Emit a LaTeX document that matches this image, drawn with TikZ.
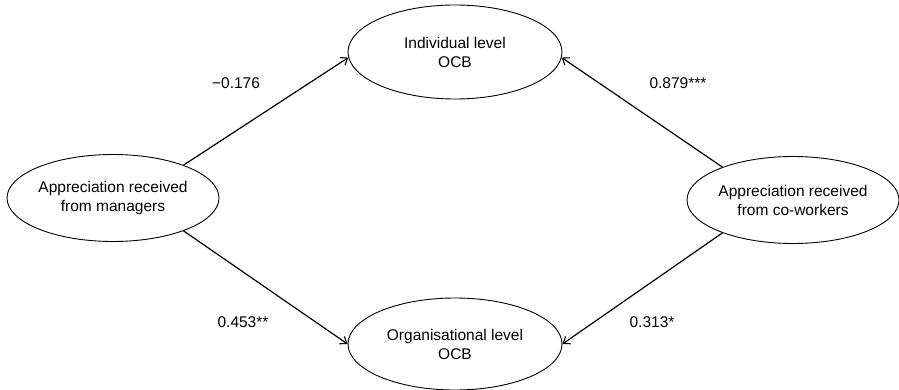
\documentclass[tikz,border=0pt]{standalone}
\usepackage{fontspec}
\setmainfont{Liberation Sans}
\usepackage{tikz}
\usetikzlibrary{shapes.geometric,arrows.meta}

\begin{document}
\begin{tikzpicture}[x=1pt,y=-1pt,
  construct/.style={draw,ellipse,line width=0.9pt,inner sep=0pt,
    minimum width=212pt,minimum height=87pt,align=center,
    font=\fontsize{15.5pt}{19pt}\selectfont},
  link/.style={line width=1.2pt,-{Straight Barb[length=6pt,width=9pt,line width=1.1pt]}},
  coef/.style={font=\fontsize{15.5pt}{19pt}\selectfont}]
\useasboundingbox (0,0) rectangle (899,390);
\node[construct] (mgr) at (113,198) {Appreciation received\\from managers};
\node[construct] (cow) at (793,200) {Appreciation received\\from co-workers};
\node[construct,minimum width=214pt,minimum height=94pt] (ind) at (455,52) {Individual level\\OCB};
\node[construct,minimum width=214pt,minimum height=92pt] (org) at (455,344) {Organisational level\\OCB};
\draw[link] (mgr.25) -- (ind.183);
\draw[link] (mgr.335) -- (org.west);
\draw[link] (cow.155) -- (ind.357);
\draw[link] (cow.205) -- (org.east);
\node[coef] (c1) at (236,83) {−0.176};
\node[coef] (c2) at (678,83) {0.879***};
\node[coef] (c3) at (243,322) {0.453**};
\node[coef] (c4) at (652,322) {0.313*};
\end{tikzpicture}
\end{document}
